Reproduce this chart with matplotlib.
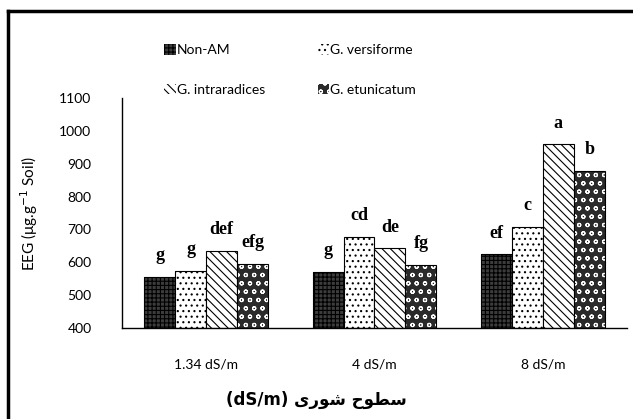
import matplotlib
matplotlib.use("Agg")
import matplotlib.pyplot as plt
import numpy as np
from matplotlib.lines import Line2D

plt.rcParams['font.family'] = ['Lato', 'DejaVu Sans']
plt.rcParams['hatch.linewidth'] = 0.8

categories = ['1.34 dS/m', '4 dS/m', '8 dS/m']
series = ['Non-AM', 'G. versiforme', 'G. intraradices', 'G. etunicatum']
non_am = [556, 571, 624]
versiforme = [574, 678, 708]
intraradices = [634, 643, 959]
etunicatum = [596, 592, 878]
letters = [['g', 'g', 'ef'],
           ['g', 'cd', 'c'],
           ['def', 'de', 'a'],
           ['efg', 'fg', 'b']]
yticks = [400, 500, 600, 700, 800, 900, 1000, 1100]

# logical text: "سطوح شوری (dS/m)" - written in visual order with presentation forms
xlabel = "(dS/m) " + "\uFBFC\uFEAD\uFEEE\uFEB7" + " " + "\uFEA1\uFEEE\uFEC4\uFEB3"


def main():
    fig = plt.figure(figsize=(6.33, 4.19), dpi=100)
    ax = fig.add_axes([0.1927, 0.2172, 0.7978, 0.5488])

    values = [non_am, versiforme, intraradices, etunicatum]
    faces = ['#3c3c3c', 'white', 'white', '#2a2a2a']
    hatches = ['++++', '...', '\\\\\\\\', 'oo']
    hcolors = ['black', 'black', 'black', 'white']
    x = np.arange(len(categories))
    w = 0.184
    handles = []
    for i, vals in enumerate(values):
        pos = x + (i - 1.5) * w
        bars = ax.bar(pos, [v - 400 for v in vals], w, bottom=400,
                      facecolor=faces[i], hatch=hatches[i],
                      edgecolor=hcolors[i], linewidth=0)
        # outline
        ax.bar(pos, [v - 400 for v in vals], w, bottom=400, fill=False,
               edgecolor='black', linewidth=0.8)
        for p, v, lab in zip(pos, vals, letters[i]):
            ax.annotate(lab, (p, v), xytext=(0, 12), textcoords='offset points',
                        ha='center', va='baseline', fontsize=13,
                        family='Liberation Serif', fontweight='bold')
        handles.append(bars)

    ax.set_ylim(400, 1100)
    ax.set_xlim(-0.5, 2.5)
    ax.set_yticks(yticks)
    ax.set_xticks(x)
    ax.set_xticklabels([])
    ax.tick_params(axis='both', length=0, labelsize=10, pad=22)
    for c, lab in zip(x, categories):
        ax.annotate(lab, (c, 400), xytext=(0, -26), textcoords='offset points',
                    ha='center', va='center', fontsize=10)
    ax.spines['top'].set_visible(False)
    ax.spines['right'].set_visible(False)
    ax.spines['left'].set_linewidth(1.0)
    ax.spines['bottom'].set_linewidth(1.0)

    ax.set_ylabel(r'EEG (μg.g$^{-1}$ Soil)', fontsize=11, labelpad=14)
    fig.text(0.5, 0.045, xlabel, ha='center', va='center', fontsize=12,
             family=['DejaVu Sans'], fontweight='bold')

    order = [0, 2, 1, 3]
    fig.legend([handles[k] for k in order], [series[k] for k in order],
               loc='upper left', ncol=2,
               bbox_to_anchor=(0.24, 0.925), frameon=False, fontsize=10,
               handlelength=0.8, handleheight=0.8, handletextpad=0.1,
               columnspacing=3.8, labelspacing=2.0)

    # outer frame (top and left edges only visible)
    fig.add_artist(Line2D([0.012, 1.0], [0.973, 0.973], color='black', lw=2.5,
                          transform=fig.transFigure))
    fig.add_artist(Line2D([0.012, 0.012], [0.0, 0.973], color='black', lw=2.5,
                          transform=fig.transFigure))

    fig.savefig('out.png', dpi=100)


if __name__ == '__main__':
    main()
